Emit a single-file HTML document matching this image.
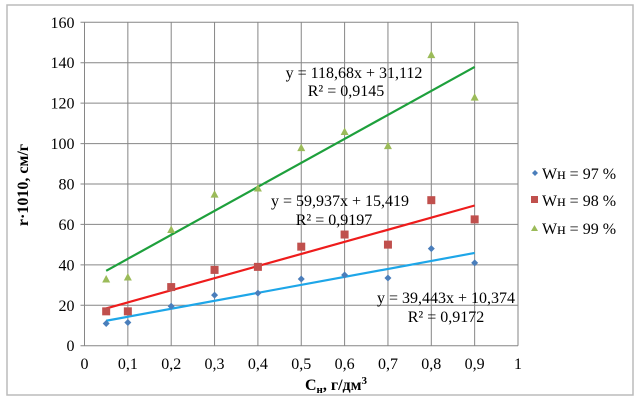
<!DOCTYPE html>
<html><head><meta charset="utf-8"><style>
body{margin:0;background:#fff;}
svg text{font-family:"Liberation Serif",serif;}
</style></head><body>
<svg width="642" height="401" xmlns="http://www.w3.org/2000/svg">
<rect x="0" y="0" width="642" height="401" fill="#fff"/>
<rect x="7" y="5" width="626" height="390" fill="none" stroke="#bbb" stroke-width="1.5"/>
<g id="grid"></g><g id="axes"></g><g id="series"></g>
<text x="336" y="390" text-anchor="middle" font-size="16" font-weight="bold">C<tspan font-size="11" dy="3">н</tspan><tspan dy="-3">, г/дм</tspan><tspan font-size="11" dy="-6">3</tspan></text>
<text transform="translate(28,185) rotate(-90)" text-anchor="middle" font-size="16" font-weight="bold">r·1010, см/г</text>
<text x="354" y="78" text-anchor="middle" font-size="16">y = 118,68x + 31,112</text>
<text x="346" y="96" text-anchor="middle" font-size="16">R² = 0,9145</text>
<text x="340" y="206" text-anchor="middle" font-size="16">y = 59,937x + 15,419</text>
<text x="334" y="225" text-anchor="middle" font-size="16">R² = 0,9197</text>
<text x="446" y="303" text-anchor="middle" font-size="16">y = 39,443x + 10,374</text>
<text x="446" y="322" text-anchor="middle" font-size="16">R² = 0,9172</text>
<g>
<path d="M532 173 l3 -3 l3 3 l-3 3z" fill="#4a7ebb"/>
<text x="542" y="179" font-size="16">Wн = 97 %</text>
<rect x="531" y="196" width="7" height="7" fill="#c0504d"/>
<text x="542" y="206" font-size="16">Wн = 98 %</text>
<path d="M531 231 l3.5 -6 l3.5 6z" fill="#9bbb59"/>
<text x="542" y="234" font-size="16">Wн = 99 %</text>
</g>
</svg>
<script>
const xs=[0.05,0.1,0.2,0.3,0.4,0.5,0.6,0.7,0.8,0.9];
const s97=[11,11.5,19.5,25,26,33,35,33.5,48,41];
const s98=[17,17,29,37.5,39,49,55,50,72,62.5];
const s99=[33,34,57.5,75,78,98,106,99,144,123];
const trend97=[39.443,10.374];
const trend98=[59.937,15.419];
const trend99=[118.68,31.112];
const xTicks=[0,0.1,0.2,0.3,0.4,0.5,0.6,0.7,0.8,0.9,1];
const xTickLabels=["0","0,1","0,2","0,3","0,4","0,5","0,6","0,7","0,8","0,9","1"];
const yTicks=[0,20,40,60,80,100,120,140,160];
const X=v=>84.5+v*433.5, Y=v=>345.7-v*323.4/160;
const NS="http://www.w3.org/2000/svg";
function mk(p,t,a){const e=document.createElementNS(NS,t);for(const k in a)e.setAttribute(k,a[k]);p.appendChild(e);return e;}
const g=document.getElementById('grid'),ax=document.getElementById('axes'),se=document.getElementById('series');
xTicks.forEach((v,i)=>{
 const l=mk(g,'line',{x1:X(v),x2:X(v),y1:Y(0),y2:Y(160),stroke:'#868686','stroke-width':1});
 
 
 const t=mk(ax,'text',{x:X(v),y:369,'text-anchor':'middle','font-size':16});t.textContent=xTickLabels[i];
 
 
});
yTicks.forEach(v=>{
 const l=mk(g,'line',{x1:X(0)-4,x2:X(1),y1:Y(v),y2:Y(v),stroke:'#868686','stroke-width':1});
 
 
 const t=mk(ax,'text',{x:X(0)-10,y:Y(v)+5.5,'text-anchor':'end','font-size':16});t.textContent=v;
 
 
});
function trend(c,col,name){const l=mk(se,'line',{x1:X(xs[0]),y1:Y(c[0]*xs[0]+c[1]),x2:X(xs[xs.length-1]),y2:Y(c[0]*xs[xs.length-1]+c[1]),stroke:col,'stroke-width':2.2});
 
 }
trend(trend99,'#1ea03c','trendline-99');trend(trend98,'#ee1c1c','trendline-98');trend(trend97,'#1ea6e8','trendline-97');
xs.forEach((x,i)=>{
 let px=X(x),py=Y(s97[i]);
 const a=mk(se,'path',{d:`M${px-3.5} ${py} L${px} ${py-3.5} L${px+3.5} ${py} L${px} ${py+3.5}Z`,fill:'#4a7ebb'});
 
 
 py=Y(s98[i]);
 const b=mk(se,'rect',{x:px-4,y:py-4,width:8,height:8,fill:'#c0504d'});
 
 
 py=Y(s99[i]);
 const c=mk(se,'path',{d:`M${px-4} ${py+3.5} L${px} ${py-4} L${px+4} ${py+3.5}Z`,fill:'#9bbb59'});
 
 
});
</script>
</body></html>
